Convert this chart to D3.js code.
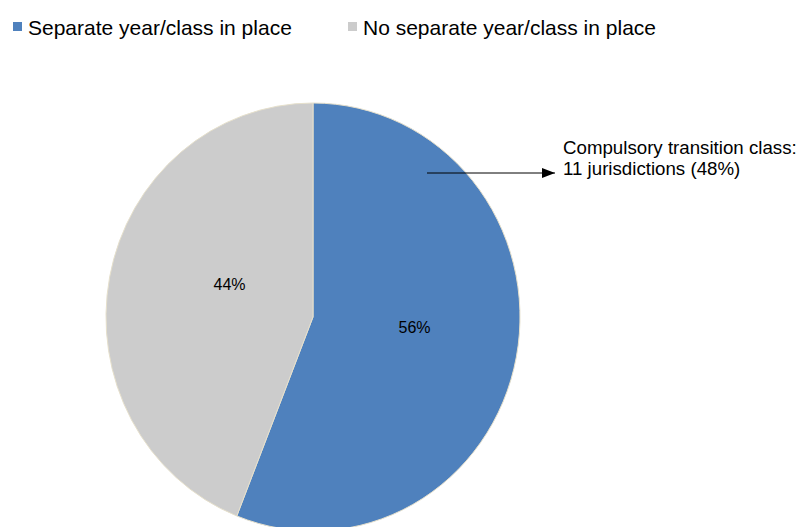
<!DOCTYPE html>
<html><head><meta charset="utf-8">
<script src="https://cdn.jsdelivr.net/npm/d3@7"></script>
<style>body{margin:0;background:#fff}svg{display:block}text{font-family:"Liberation Sans",Arial,sans-serif}</style>
</head><body>
<svg id="c" width="801" height="527"></svg>
<script>
const categories = ["Separate year/class in place", "No separate year/class in place"];
const values = [56, 44];
const labels = ["56%", "44%"];
const colors = ["#4F81BD", "#CCCCCC"];
const annotationLines = ["Compulsory transition class:", "11 jurisdictions (48%)"];

const svg = d3.select("#c");
const cx = 313, cy = 317, rx = 207, ry = 214;

const pie = d3.pie().sort(null).value(d => d)(values);
const arc = d3.arc().innerRadius(0).outerRadius(rx);

const g = svg.append("g").attr("transform", `translate(${cx},${cy}) scale(1,${ry/rx})`);
g.selectAll("path").data(pie).join("path")
  .attr("d", arc)
  .attr("fill", (d,i) => colors[i])
  .attr("stroke", "#E6E0CC")
  .attr("stroke-width", 1)
  .attr("vector-effect", "non-scaling-stroke");

// data labels (centroid plus a small best-fit nudge)
const nudge = [[10, -7], [8, -15.5]];
const lab = d3.arc().innerRadius(rx*0.45).outerRadius(rx*0.45);
svg.append("g").attr("transform", `translate(${cx},${cy})`)
  .selectAll("text").data(pie).join("text")
  .attr("x", (d,i) => lab.centroid(d)[0] + nudge[i][0])
  .attr("y", (d,i) => lab.centroid(d)[1] + nudge[i][1] + 6)
  .attr("text-anchor", "middle")
  .attr("font-size", 16)
  .attr("fill", "#000")
  .text((d,i) => labels[i]);

// legend
const leg = svg.append("g");
const legX = [13, 348];
categories.forEach((c,i) => {
  leg.append("rect").attr("x", legX[i]).attr("y", 22).attr("width", 9).attr("height", 9).attr("fill", colors[i]);
  leg.append("text").attr("x", legX[i]+15).attr("y", 34.5).attr("font-size", 21).attr("fill", "#000").text(c);
});

// annotation
svg.append("defs").append("marker").attr("id","ah").attr("viewBox","0 0 13 10")
  .attr("refX",13).attr("refY",5).attr("markerWidth",13).attr("markerHeight",10).attr("markerUnits","userSpaceOnUse")
  .attr("orient","auto").append("path").attr("d","M0,0L13,5L0,10Z").attr("fill","#000");
svg.append("line").attr("x1",427).attr("y1",173).attr("x2",555).attr("y2",173)
  .attr("stroke","#000").attr("stroke-width",1).attr("marker-end","url(#ah)");
annotationLines.forEach((t,i) => {
  svg.append("text").attr("x",563).attr("y",153.5 + i*21.5).attr("font-size",18.7).attr("fill","#000").text(t);
});
</script>
</body></html>
